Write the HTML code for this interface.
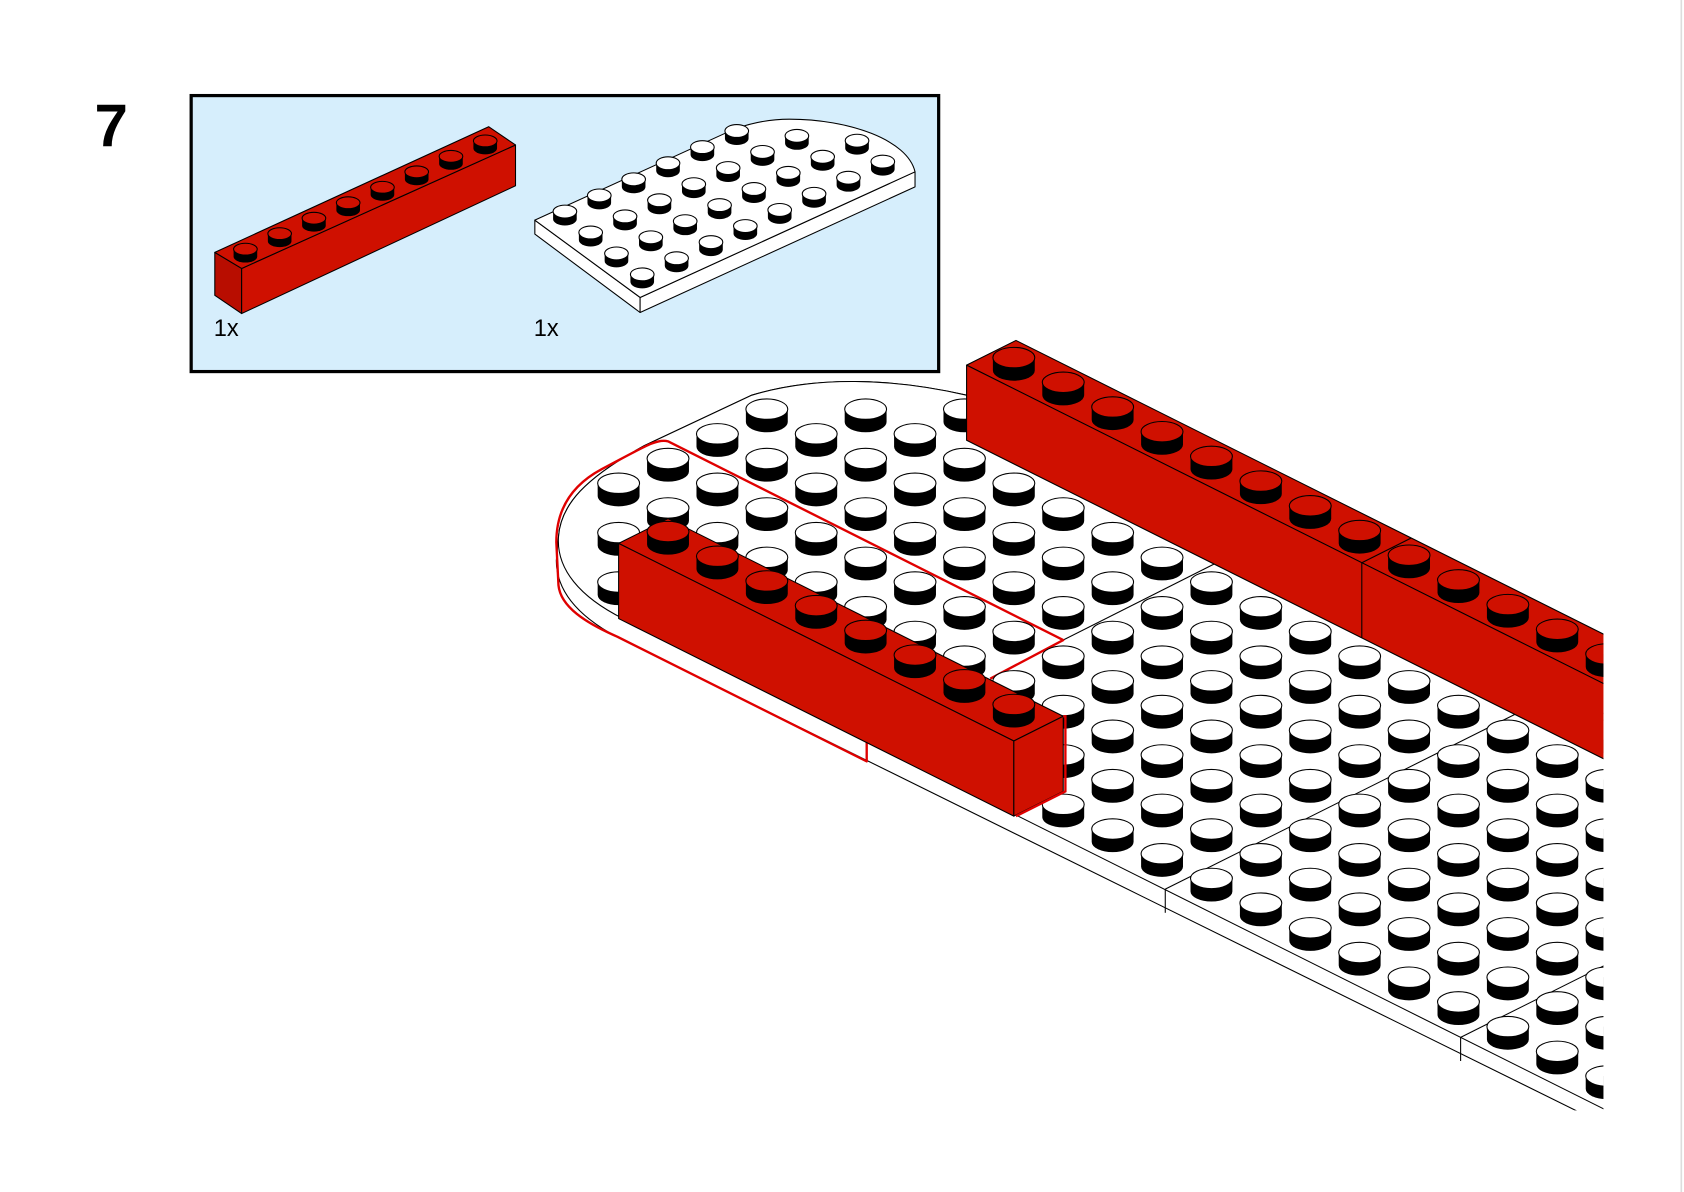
<!DOCTYPE html>
<html><head><meta charset="utf-8"><style>
html,body{margin:0;padding:0;background:#fff;}
svg{display:block;}
</style></head><body>
<svg id="s" width="1684" height="1192" viewBox="0 0 1568 1110" preserveAspectRatio="none" xmlns="http://www.w3.org/2000/svg">
<rect x="0" y="0" width="1568" height="1110" fill="#fff"/>
<line x1="1565.5" y1="0" x2="1565.5" y2="1110" stroke="#ddd" stroke-width="1.5"/>
<text x="88" y="136" font-family="Liberation Sans, sans-serif" font-weight="bold" font-size="56" fill="#000">7</text>
<rect x="178" y="89" width="696" height="257" fill="#d6eefc" stroke="#000" stroke-width="3"/>
<!-- parts box brick -->
<g stroke="#000" stroke-width="1" stroke-linejoin="round">
<polygon points="200,235 225,250 225,292 200,275" fill="#b80d00"/>
<polygon points="225,250 480,135 480,173 225,292" fill="#cf1000"/>
<polygon points="200,235 455,118 480,135 225,250" fill="#cf1000"/>
</g>
<g id="boxbrickstuds"></g>
<!-- parts box plate -->
<g stroke="#000" stroke-width="1" stroke-linejoin="round">
<polygon points="498,205 596,277 596,291 498,218" fill="#fff"/>
<polygon points="596,277 852,160 852,174 596,291" fill="#fff"/>
<path d="M498,205 L596,277 L852,160 C845,130 790,111 735,111 C712,111 695,116 682,121 Z" fill="#fff"/>
</g>
<g id="boxplatestuds"></g>
<text x="199" y="313" font-family="Liberation Sans, sans-serif" font-size="22" fill="#000">1x</text>
<text x="497" y="313" font-family="Liberation Sans, sans-serif" font-size="22" fill="#000">1x</text>

<defs><clipPath id="cp"><rect x="0" y="300" width="1493" height="734"/></clipPath></defs>
<g clip-path="url(#cp)">
  <!-- plate side -->
  <path d="M1700,1149 L580,596 C540,576 518,552 518,522 L520,500 C522,470 545,445 600,415 L700,368 C760,350 830,352 900,368 L1700,768 Z" fill="#fff" stroke="#000" stroke-width="1"/>
  <!-- plate top -->
  <path d="M1700,1136 L580,576 C540,556 518,530 520,500 C522,470 545,445 600,415 L700,368 C760,350 830,352 900,368 L1700,768 Z" fill="#fff" stroke="#000" stroke-width="1"/>
  <line x1="1085" y1="828" x2="1085" y2="850" stroke="#000" stroke-width="1"/>
  <line x1="1360" y1="966" x2="1360" y2="988" stroke="#000" stroke-width="1"/>
  <line x1="1085" y1="828" x2="1411" y2="665" stroke="#000" stroke-width="1"/>
  <line x1="1360" y1="966" x2="1560" y2="866" stroke="#000" stroke-width="1"/>
  <line x1="990" y1="596" x2="1131" y2="525" stroke="#000" stroke-width="1"/>
  <!-- red outline -->
  <path d="M922,632 L990,596 L622,411 C612,408 600,416 560,437 C532,452 518,475 518,505 L520,545 C522,565 545,580 575,593 L807,709 L807,689" fill="none" stroke="#e00000" stroke-width="2.2" stroke-linejoin="round"/>
  <g id="platestuds"></g>
  <!-- back bricks -->
  <g stroke="#000" stroke-width="1" stroke-linejoin="round">
    <polygon points="900,340 946,317 1746,717 1700,740" fill="#cf1000"/>
    <polygon points="900,340 1700,740 1700,810 900,410" fill="#cf1000"/>
    <line x1="1268" y1="524" x2="1268" y2="594"/>
    <line x1="1268" y1="524" x2="1314" y2="501"/>
  </g>
  <g id="backstuds"></g>
  <!-- front brick -->
  <g stroke="#000" stroke-width="1" stroke-linejoin="round">
    <polygon points="576,506 622,483 990,667 944,690" fill="#cf1000"/>
    <polygon points="576,506 944,690 944,760 576,576" fill="#cf1000"/>
    <polygon points="944,690 990,667 990,737 944,760" fill="#cf1000"/>
  </g>
  <path d="M990,667 L992,667 L992,737 L946,760" fill="none" stroke="#e00000" stroke-width="2.2"/>
  <g id="frontstuds"></g>
</g>
</svg>
<script>
var NS="http://www.w3.org/2000/svg";
function stud(g,x,y,rx,ry,h,fill){ // x,y = top center
  var p=document.createElementNS(NS,"path");
  p.setAttribute("d","M"+(x-rx)+","+y+" L"+(x-rx)+","+(y+h)+" A"+rx+" "+ry+" 0 0 0 "+(x+rx)+","+(y+h)+" L"+(x+rx)+","+y+" Z");
  p.setAttribute("fill","#000");
  g.appendChild(p);
  var e=document.createElementNS(NS,"ellipse");
  e.setAttribute("cx",x);e.setAttribute("cy",y);e.setAttribute("rx",rx);e.setAttribute("ry",ry);
  e.setAttribute("fill",fill);e.setAttribute("stroke","#000");e.setAttribute("stroke-width","1");
  g.appendChild(e);
}
// box brick studs
var g=document.getElementById("boxbrickstuds");
for(var k=0;k<8;k++){stud(g,228.5+31.9*k,232-14.4*k,11,5.5,7,"#cf1000");}
// box plate studs
g=document.getElementById("boxplatestuds");
var counts=[6,7,8,8];
var list=[];
for(var r=0;r<4;r++){for(var k=0;k<counts[r];k++){list.push([526+24*r+32*k,197+19.5*r-15*k]);}}
list.sort(function(a,b){return a[1]-b[1];});
list.forEach(function(p){stud(g,p[0],p[1],11,6,7,"#fff");});
// plate studs
g=document.getElementById("platestuds");
var minI={"-2":2,"-1":1,"0":0,"1":0,"2":0,"3":0,"4":1,"5":2};
list=[];
for(var j=-2;j<=5;j++){for(var i=minI[j];i<30;i++){
  var x=576+46*(i+j), y=450+23*(i-j);
  if(x>1530||y>1060) continue;
  list.push([x,y]);
}}
list.sort(function(a,b){return a[1]-b[1];});
list.forEach(function(p){stud(g,p[0],p[1],19.5,9.5,12,"#fff");});
// back brick studs
g=document.getElementById("backstuds");
for(var k=0;k<16;k++){stud(g,944+46*k,333+23*k,19.5,9.5,12,"#cf1000");}
// front brick studs
g=document.getElementById("frontstuds");
for(var k=0;k<8;k++){stud(g,622+46*k,495+23*k,19.5,9.5,12,"#cf1000");}
</script>
</body></html>
